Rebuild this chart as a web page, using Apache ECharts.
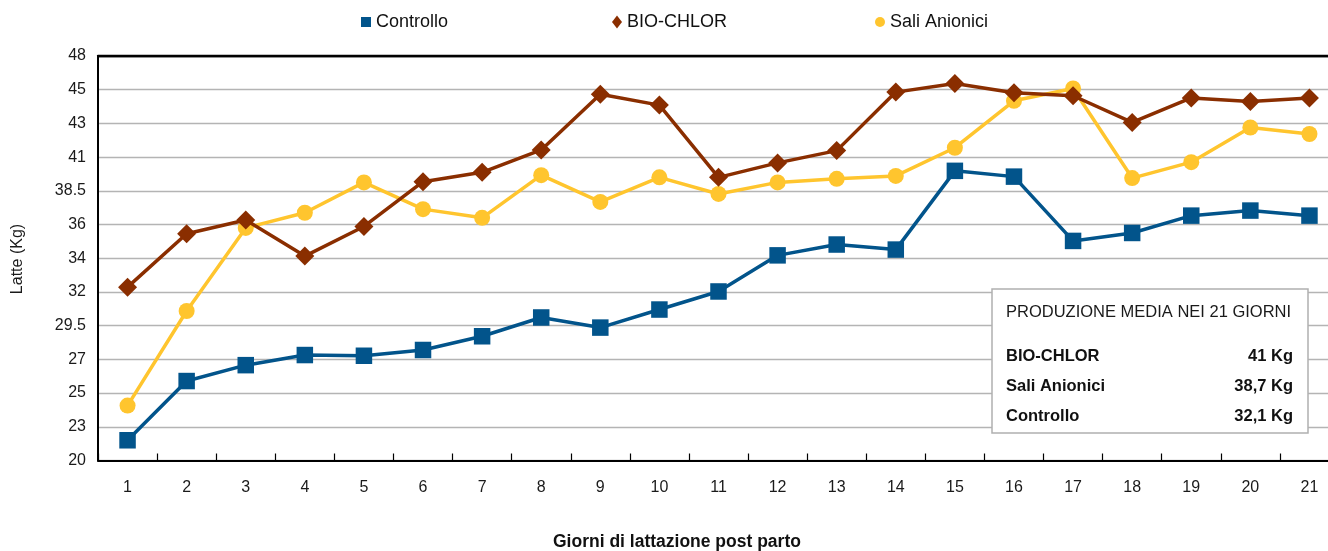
<!DOCTYPE html>
<html>
<head>
<meta charset="utf-8">
<script src="https://cdn.jsdelivr.net/npm/echarts@6/dist/echarts.min.js"></script>
<style>
html,body{margin:0;padding:0;background:#fff;}
#chart{width:1328px;height:551px;}
</style>
</head>
<body>
<div id="chart"></div>
<script>
var days = ['1','2','3','4','5','6','7','8','9','10','11','12','13','14','15','16','17','18','19','20','21'];
var controllo = [21.4, 25.5, 26.6, 27.3, 27.25, 27.65, 28.6, 29.9, 29.2, 30.45, 31.7, 34.2, 34.95, 34.6, 40.05, 39.65, 35.2, 35.75, 36.95, 37.3, 36.95];
var bioChlor = [32.0, 35.7, 36.65, 34.15, 36.2, 39.3, 39.95, 41.5, 45.35, 44.6, 39.6, 40.6, 41.45, 45.5, 46.1, 45.45, 45.25, 43.4, 45.1, 44.85, 45.1];
var saliAnionici = [23.8, 30.35, 36.1, 37.15, 39.25, 37.4, 36.8, 39.75, 37.9, 39.6, 38.45, 39.25, 39.5, 39.7, 41.65, 44.9, 45.75, 39.55, 40.65, 43.05, 42.6];
var yTickLabels = ['20','23','25','27','29.5','32','34','36','38.5','41','43','45','48'];
var yMin = 20, yMax = 48;
var tableTitle = 'PRODUZIONE MEDIA NEI 21 GIORNI';
var tableNames = ['BIO-CHLOR', 'Sali Anionici', 'Controllo'];
var tableValues = ['41 Kg', '38,7 Kg', '32,1 Kg'];

var FONT = "'Liberation Sans', Arial, Helvetica, sans-serif";
var C_BLUE = '#02548B', C_BROWN = '#8A2E00', C_YELLOW = '#FFC52E';

var splitColors = [];
for (var i = 0; i < yTickLabels.length; i++) {
  splitColors.push(i === yTickLabels.length - 1 ? '#000' : '#b4b4b4');
}

var chart = echarts.init(document.getElementById('chart'), null, {renderer: 'canvas'});
var legendText = {fontSize: 18, fontFamily: FONT, color: '#111'};
var tableGraphics = [
  {type: 'rect', shape: {x: 992, y: 289, width: 316, height: 144},
   style: {fill: '#fff', stroke: '#b0b0b0', lineWidth: 1.5}, z: 100},
  {type: 'text', x: 1006, y: 312, z: 101,
   style: {text: tableTitle, fill: '#1a1a1a', font: '16.5px ' + FONT, textAlign: 'left', textVerticalAlign: 'middle'}}
];
for (var k = 0; k < tableNames.length; k++) {
  tableGraphics.push({type: 'text', x: 1006, y: 356 + k * 30, z: 101,
    style: {text: tableNames[k], fill: '#111', font: 'bold 16.5px ' + FONT, textAlign: 'left', textVerticalAlign: 'middle'}});
  tableGraphics.push({type: 'text', x: 1293, y: 356 + k * 30, z: 101,
    style: {text: tableValues[k], fill: '#111', font: 'bold 16.5px ' + FONT, textAlign: 'right', textVerticalAlign: 'middle'}});
}

var option = {
  animation: false,
  backgroundColor: '#fff',
  grid: {left: 98, top: 56, right: -11, bottom: 90.5, containLabel: false, outerBoundsMode: 'none'},
  legend: [
    {data: ['Controllo'], left: 361, top: 13, padding: 0, icon: 'rect', itemWidth: 10, itemHeight: 10, textStyle: legendText},
    {data: ['BIO-CHLOR'], left: 612, top: 13, padding: 0, icon: 'diamond', itemWidth: 10, itemHeight: 13, textStyle: legendText},
    {data: ['Sali Anionici'], left: 875, top: 13, padding: 0, icon: 'circle', itemWidth: 10, itemHeight: 10, textStyle: legendText}
  ],
  xAxis: [
    {type: 'category', data: days, boundaryGap: true, position: 'bottom',
     axisLine: {lineStyle: {color: '#000', width: 2}},
     axisTick: {show: true, inside: true, length: 7, lineStyle: {color: '#000', width: 1.2}},
     axisLabel: {fontSize: 16, fontFamily: FONT, color: '#1a1a1a', margin: 19},
     splitLine: {show: false}},
    {type: 'category', data: days, position: 'top',
     axisLine: {lineStyle: {color: '#000', width: 2.3}},
     axisTick: {show: false}, axisLabel: {show: false}, splitLine: {show: false}}
  ],
  yAxis: [
    {type: 'value', min: 0, max: yTickLabels.length - 1, interval: 1, position: 'left',
     axisLine: {show: true, lineStyle: {color: '#000', width: 2}},
     axisTick: {show: false},
     axisLabel: {fontSize: 16, fontFamily: FONT, color: '#1a1a1a', margin: 12,
       formatter: function (v) { return yTickLabels[Math.round(v)]; }},
     splitLine: {show: true, lineStyle: {color: splitColors, width: 1.3}}},
    {type: 'value', min: yMin, max: yMax, show: false,
     axisLine: {show: false}, axisLabel: {show: false}, splitLine: {show: false}, axisTick: {show: false}}
  ],
  series: [
    {name: 'Controllo', type: 'line', data: controllo, yAxisIndex: 1, xAxisIndex: 0,
     symbol: 'rect', symbolSize: 16.5, itemStyle: {color: C_BLUE}, lineStyle: {color: C_BLUE, width: 3.5}, z: 3},
    {name: 'Sali Anionici', type: 'line', data: saliAnionici, yAxisIndex: 1, xAxisIndex: 0,
     symbol: 'circle', symbolSize: 16, itemStyle: {color: C_YELLOW}, lineStyle: {color: C_YELLOW, width: 3.5}, z: 4},
    {name: 'BIO-CHLOR', type: 'line', data: bioChlor, yAxisIndex: 1, xAxisIndex: 0,
     symbol: 'diamond', symbolSize: 19, itemStyle: {color: C_BROWN}, lineStyle: {color: C_BROWN, width: 3.5}, z: 5}
  ],
  graphic: [
    {type: 'text', x: 18, y: 259, rotation: Math.PI / 2,
     style: {text: 'Latte (Kg)', fill: '#1a1a1a', font: '16px ' + FONT, textAlign: 'center', textVerticalAlign: 'middle'}},
    {type: 'text', x: 553, y: 542,
     style: {text: 'Giorni di lattazione post parto', fill: '#111', font: 'bold 17.5px ' + FONT, textAlign: 'left', textVerticalAlign: 'middle'}}
  ].concat(tableGraphics)
};
chart.setOption(option);
</script>
</body>
</html>
